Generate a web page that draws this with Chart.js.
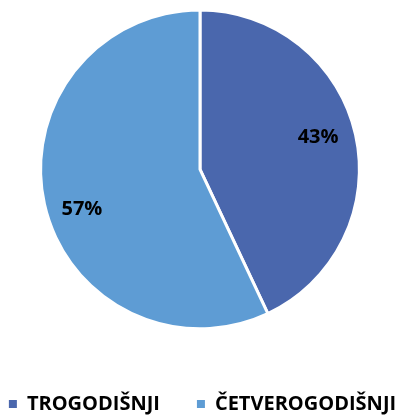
<!DOCTYPE html>
<html>
<head>
<meta charset="utf-8">
<script src="https://cdn.jsdelivr.net/npm/chart.js@4"></script>
<style>
  html, body { margin: 0; padding: 0; background: #fff; }
  #wrap { width: 400px; height: 416px; }
</style>
</head>
<body>
<div id="wrap"><canvas id="pie"></canvas></div>
<script>
const categories = ['TROGODIŠNJI', 'ČETVEROGODIŠNJI'];
const shares = [43, 57];
const sliceColors = ['#4A67AD', '#5E9CD4'];

// percent labels inside the slices
const sliceLabels = {
    id: 'sliceLabels',
    afterLayout(chart) {
        // legend sits a bit right of the pie centre in the original
        chart.legend.left += 4;
        chart.legend.right += 4;
    },
    afterDatasetsDraw(chart) {
        const ctx = chart.ctx;
        const meta = chart.getDatasetMeta(0);
        ctx.save();
        ctx.font = 'bold 20px "Open Sans", sans-serif';
        ctx.fillStyle = '#000';
        ctx.textAlign = 'center';
        ctx.textBaseline = 'middle';
        meta.data.forEach((arc, i) => {
            const p = arc.getProps(['x', 'y', 'startAngle', 'endAngle', 'outerRadius'], true);
            const mid = (p.startAngle + p.endAngle) / 2 - 4.5 * Math.PI / 180;
            const r = p.outerRadius * 0.775;
            // +4: middle baseline sits digits a little high
            ctx.fillText(shares[i] + '%', p.x + Math.cos(mid) * r, p.y + Math.sin(mid) * r + 4);
        });
        ctx.restore();
    }
};

const ctx = document.getElementById('pie').getContext('2d');

new Chart(ctx, {
    type: 'pie',
    data: {
        labels: categories,
        datasets: [{
            data: shares,
            backgroundColor: sliceColors,
            borderColor: '#fff',
            borderWidth: 3
        }]
    },
    options: {
        responsive: true,
        maintainAspectRatio: false,
        animation: false,
        layout: {
            padding: { top: 8.5, bottom: -8, left: -41.5, right: -38.5 }
        },
        plugins: {
            tooltip: { enabled: false },
            legend: {
                position: 'bottom',
                title: {
                    display: true,
                    text: ' ',
                    font: { size: 1 },
                    padding: { top: 25.5, bottom: 0 }
                },
                labels: {
                    boxWidth: 8,
                    boxHeight: 8,
                    padding: 37,
                    color: '#000',
                    font: { family: '"Open Sans", sans-serif', size: 20, weight: 'bold' },
                    generateLabels(chart) {
                        const base = Chart.overrides.pie.plugins.legend.labels.generateLabels(chart);
                        return base.map(item => ({ ...item, lineWidth: 0 }));
                    }
                }
            }
        }
    },
    plugins: [sliceLabels]
});
</script>
</body>
</html>
